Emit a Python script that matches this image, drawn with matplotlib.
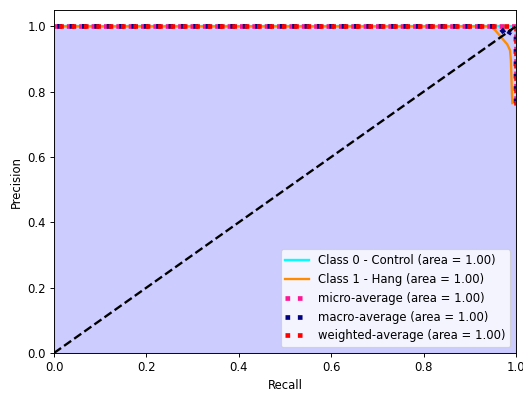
import numpy as np
import matplotlib
matplotlib.use("Agg")
import matplotlib.pyplot as plt

# Precision-recall curves per class and averaged
recall_c0 = [0.0, 0.97, 1.0, 1.0]
precision_c0 = [1.0, 1.0, 1.0, 0.97]

recall_c1 = [0.0, 0.944, 0.955, 0.970, 0.981, 0.987, 0.989, 0.991, 0.992]
precision_c1 = [1.0, 1.0, 0.988, 0.963, 0.945, 0.927, 0.896, 0.80, 0.765]

recall_micro = [0.0, 1.0, 1.0]
precision_micro = [1.0, 1.0, 0.75]

recall_macro = [0.0, 0.962, 0.972, 0.980, 0.988, 1.0, 1.0]
precision_macro = [1.0, 1.0, 0.985, 0.968, 0.985, 0.975, 0.75]

recall_weighted = [0.0, 1.0, 1.0]
precision_weighted = [1.0, 1.0, 0.75]

areas = {"c0": 1.00, "c1": 1.00, "micro": 1.00, "macro": 1.00, "weighted": 1.00}

DPI = 84
fig = plt.figure(figsize=(523 / DPI, 394 / DPI), dpi=DPI)
ax = fig.add_axes([54 / 523, 41 / 394, 462 / 523, 343 / 394])

ax.fill_between(recall_micro, precision_micro, step="post", alpha=0.2, color="b")

dot = (1, 1.65)
ax.plot(recall_c0, precision_c0, color="aqua", lw=2,
        label="Class 0 - Control (area = {0:0.2f})".format(areas["c0"]))
ax.plot(recall_c1, precision_c1, color="darkorange", lw=2,
        label="Class 1 - Hang (area = {0:0.2f})".format(areas["c1"]))
ax.plot(recall_micro, precision_micro, color="deeppink", linestyle=(0, dot), lw=4,
        label="micro-average (area = {0:0.2f})".format(areas["micro"]))
ax.plot(recall_macro, precision_macro, color="navy", linestyle=(1.95, dot), lw=4,
        label="macro-average (area = {0:0.2f})".format(areas["macro"]))
ax.plot(recall_weighted, precision_weighted, color="red", linestyle=(1.65, dot), lw=4,
        label="weighted-average (area = {0:0.2f})".format(areas["weighted"]))

ax.plot([0, 1], [0, 1], "k--", lw=2)

ax.set_xlim([0.0, 1.0])
ax.set_ylim([0.0, 1.05])
ax.set_xlabel("Recall")
ax.set_ylabel("Precision")
leg = ax.legend(loc="lower right")
for h in leg.legend_handles[2:]:
    h.set_linestyle((0, dot))

fig.savefig("out.png", dpi=DPI)
